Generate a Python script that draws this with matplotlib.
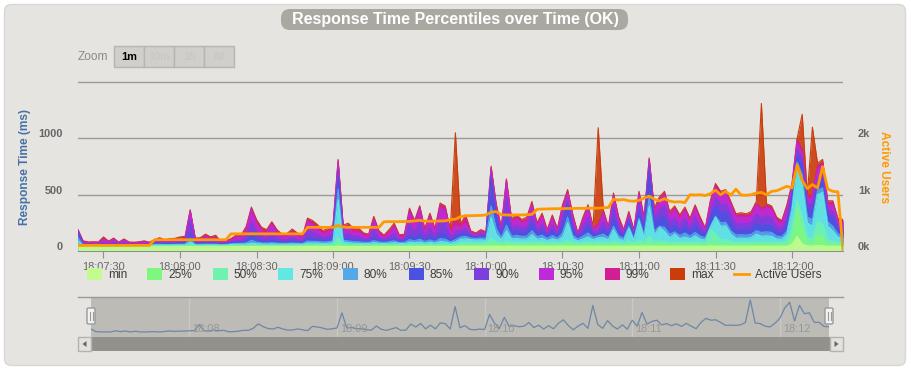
import numpy as np
import pandas as pd
import matplotlib
matplotlib.use('Agg')
import matplotlib.pyplot as plt
import matplotlib.dates as mdates
from matplotlib.patches import FancyBboxPatch, Rectangle, Polygon
from matplotlib.transforms import ScaledTranslation

plt.rcParams['font.family'] = ['Liberation Sans', 'DejaVu Sans']

# one sample every 2 s, starting 18:07:20
start = '2023-01-01 18:07:20'

max_ms = [190, 90, 80, 82, 80, 125, 88, 115, 78, 107,
          80, 78, 82, 90, 78, 100, 118, 100, 110, 112,
          125, 130, 366, 115, 118, 150, 125, 140, 85, 90,
          110, 140, 143, 220, 390, 280, 210, 190, 260, 190,
          150, 155, 195, 160, 128, 292, 270, 232, 180, 200,
          230, 813, 230, 247, 200, 205, 160, 150, 307, 180,
          140, 190, 247, 143, 150, 380, 270, 402, 200, 336,
          200, 426, 400, 190, 1050, 240, 320, 180, 160, 190,
          170, 753, 420, 210, 640, 290, 322, 280, 300, 440,
          250, 336, 190, 320, 200, 410, 545, 330, 160, 300,
          411, 217, 1095, 366, 217, 515, 307, 190, 351, 188,
          530, 300, 827, 380, 480, 530, 350, 400, 320, 390,
          290, 410, 300, 205, 450, 600, 530, 545, 440, 330,
          340, 330, 350, 440, 1310, 420, 400, 300, 270, 410,
          600, 1000, 1214, 500, 1100, 780, 813, 446, 446, 290,
          280]
p99 = [185, 85, 76, 78, 76, 115, 82, 110, 74, 102,
       76, 74, 78, 85, 74, 95, 110, 95, 104, 106,
       115, 120, 360, 108, 110, 140, 118, 130, 80, 85,
       104, 130, 133, 205, 380, 265, 195, 175, 250, 175,
       140, 145, 180, 150, 120, 280, 255, 215, 168, 185,
       215, 800, 215, 230, 185, 190, 150, 140, 295, 168,
       132, 175, 230, 135, 140, 365, 255, 390, 185, 320,
       185, 410, 385, 175, 300, 225, 300, 170, 152, 180,
       162, 740, 400, 200, 630, 275, 305, 265, 285, 425,
       237, 320, 180, 305, 190, 395, 530, 315, 152, 285,
       395, 205, 240, 350, 205, 500, 292, 180, 335, 178,
       515, 285, 815, 360, 465, 515, 335, 385, 305, 375,
       275, 395, 285, 195, 435, 585, 515, 530, 425, 315,
       325, 315, 335, 425, 380, 405, 385, 285, 258, 395,
       585, 990, 900, 480, 500, 760, 790, 430, 430, 278,
       268]
p95 = [180, 75, 70, 72, 70, 100, 74, 100, 68, 95,
       70, 68, 72, 78, 68, 88, 100, 88, 96, 98,
       105, 108, 350, 100, 102, 125, 108, 115, 75, 80,
       96, 118, 120, 185, 365, 245, 175, 155, 235, 155,
       125, 130, 160, 135, 110, 260, 235, 195, 150, 165,
       195, 780, 195, 210, 165, 170, 135, 128, 275, 150,
       122, 158, 210, 124, 128, 345, 235, 370, 165, 300,
       165, 385, 360, 158, 230, 205, 250, 160, 145, 170,
       155, 720, 380, 188, 615, 260, 285, 248, 265, 405,
       222, 300, 170, 285, 178, 375, 510, 295, 145, 265,
       375, 192, 220, 330, 192, 480, 272, 170, 318, 168,
       495, 265, 800, 340, 445, 495, 315, 365, 285, 355,
       258, 375, 265, 182, 415, 565, 495, 510, 405, 295,
       305, 295, 315, 405, 360, 385, 365, 265, 242, 375,
       565, 960, 870, 460, 470, 730, 760, 410, 410, 262,
       252]
p90 = [172, 62, 60, 61, 60, 75, 62, 78, 60, 75,
       60, 59, 61, 64, 59, 74, 80, 74, 78, 78,
       82, 84, 280, 80, 80, 90, 84, 86, 68, 70,
       82, 95, 96, 130, 260, 170, 125, 115, 150, 115,
       100, 102, 118, 105, 92, 180, 165, 145, 120, 128,
       150, 720, 150, 155, 128, 130, 110, 106, 190, 118,
       102, 122, 155, 104, 106, 240, 170, 260, 128, 210,
       128, 270, 250, 122, 170, 180, 200, 145, 135, 150,
       140, 680, 340, 165, 480, 210, 230, 205, 215, 330,
       188, 240, 150, 230, 155, 300, 450, 240, 135, 215,
       300, 168, 180, 260, 168, 400, 220, 150, 290, 148,
       420, 220, 760, 290, 370, 400, 260, 290, 230, 285,
       210, 300, 215, 160, 340, 480, 410, 420, 330, 240,
       245, 240, 255, 330, 290, 310, 295, 215, 200, 300,
       520, 900, 820, 420, 420, 650, 680, 360, 350, 225,
       218]
p85 = [160, 56, 55, 55, 55, 62, 56, 62, 55, 60,
       55, 54, 55, 56, 54, 64, 66, 64, 65, 66,
       68, 68, 160, 66, 66, 70, 68, 69, 62, 63,
       72, 78, 78, 90, 140, 110, 90, 86, 95, 86,
       80, 80, 88, 82, 76, 115, 110, 105, 96, 100,
       115, 663, 115, 112, 100, 100, 90, 88, 120, 95,
       88, 98, 112, 88, 90, 140, 115, 150, 100, 130,
       100, 160, 150, 98, 125, 150, 160, 130, 122, 132,
       125, 634, 300, 145, 320, 170, 180, 165, 172, 250,
       158, 185, 132, 180, 135, 230, 426, 185, 122, 172,
       230, 145, 155, 200, 145, 300, 175, 132, 270, 130,
       360, 180, 700, 240, 300, 300, 200, 230, 180, 220,
       170, 230, 172, 140, 300, 400, 330, 340, 250, 185,
       190, 185, 195, 250, 220, 235, 225, 172, 162, 240,
       480, 850, 760, 380, 360, 600, 620, 320, 300, 190,
       185]
p80 = [120, 51, 50, 50, 50, 55, 51, 54, 50, 53,
       50, 50, 50, 51, 50, 58, 59, 58, 58, 59,
       60, 60, 110, 59, 59, 61, 60, 60, 57, 58,
       64, 67, 67, 72, 95, 80, 72, 70, 74, 70,
       68, 68, 71, 69, 66, 88, 86, 84, 80, 82,
       90, 550, 95, 90, 82, 82, 78, 76, 92, 80,
       76, 82, 90, 76, 77, 100, 90, 105, 84, 98,
       84, 110, 105, 82, 100, 125, 130, 115, 110, 116,
       110, 400, 200, 120, 230, 132, 138, 130, 132, 180,
       128, 140, 112, 138, 114, 160, 300, 140, 106, 132,
       160, 120, 135, 150, 120, 220, 135, 112, 220, 110,
       290, 142, 480, 175, 220, 210, 150, 170, 138, 160,
       132, 165, 132, 118, 220, 310, 250, 255, 180, 142,
       145, 142, 148, 180, 165, 170, 165, 132, 128, 175,
       400, 790, 680, 300, 280, 540, 560, 260, 220, 150,
       148]
p75 = [90, 48, 47, 47, 47, 50, 48, 49, 47, 49,
       47, 47, 47, 48, 47, 53, 54, 53, 53, 54,
       55, 55, 80, 54, 54, 55, 55, 55, 52, 53,
       58, 60, 60, 62, 70, 65, 62, 61, 63, 61,
       60, 60, 62, 61, 59, 72, 71, 70, 68, 69,
       75, 455, 80, 74, 69, 69, 66, 65, 75, 68,
       66, 69, 74, 66, 66, 78, 74, 80, 70, 78,
       70, 84, 80, 69, 82, 105, 108, 100, 96, 100,
       92, 300, 150, 100, 180, 108, 110, 105, 106, 145,
       105, 112, 92, 110, 95, 125, 250, 112, 90, 106,
       125, 100, 118, 118, 100, 190, 108, 92, 200, 92,
       270, 112, 400, 140, 210, 175, 118, 150, 110, 125,
       108, 135, 106, 96, 210, 300, 220, 225, 150, 112,
       115, 112, 118, 150, 130, 135, 130, 106, 104, 150,
       360, 753, 580, 250, 220, 500, 520, 220, 180, 122,
       118]
p50 = [60, 45, 44, 44, 44, 45, 45, 45, 44, 45,
       44, 44, 44, 45, 44, 47, 47, 47, 47, 47,
       48, 48, 55, 47, 47, 48, 48, 48, 47, 47,
       50, 50, 50, 51, 53, 52, 51, 50, 51, 50,
       50, 50, 51, 50, 50, 56, 56, 55, 55, 55,
       56, 120, 57, 56, 55, 55, 54, 54, 57, 55,
       54, 55, 56, 54, 54, 57, 56, 58, 55, 57,
       55, 58, 58, 55, 57, 72, 72, 70, 70, 70,
       70, 110, 85, 72, 90, 75, 75, 74, 74, 82,
       74, 76, 70, 75, 71, 80, 95, 76, 70, 74,
       80, 72, 78, 78, 72, 88, 75, 70, 90, 70,
       100, 76, 130, 82, 90, 86, 78, 80, 75, 80,
       75, 80, 74, 72, 190, 150, 100, 100, 85, 76,
       76, 76, 77, 82, 80, 80, 80, 74, 74, 85,
       200, 450, 300, 120, 110, 262, 240, 100, 90, 78,
       76]
p25 = [45, 42, 41, 41, 41, 42, 42, 42, 41, 42,
       41, 41, 41, 42, 41, 43, 43, 43, 43, 43,
       43, 43, 45, 43, 43, 43, 43, 43, 43, 43,
       45, 45, 45, 45, 46, 45, 45, 45, 45, 45,
       45, 45, 45, 45, 45, 47, 47, 47, 47, 47,
       47, 60, 47, 47, 47, 47, 47, 47, 47, 47,
       47, 47, 47, 47, 47, 48, 47, 48, 47, 48,
       47, 48, 48, 47, 48, 55, 55, 55, 55, 55,
       55, 65, 58, 55, 58, 56, 56, 56, 56, 57,
       56, 56, 55, 56, 55, 57, 60, 56, 55, 56,
       57, 55, 56, 56, 55, 58, 56, 55, 58, 55,
       60, 56, 66, 57, 58, 58, 56, 57, 56, 57,
       56, 57, 56, 55, 70, 65, 60, 60, 58, 56,
       56, 56, 56, 57, 57, 57, 57, 56, 56, 58,
       120, 370, 200, 70, 65, 150, 120, 60, 58, 56,
       56]
min_ms = [38, 38, 38, 38, 38, 38, 38, 38, 38, 38,
          38, 38, 38, 38, 38, 38, 38, 38, 38, 38,
          38, 38, 39, 38, 38, 38, 38, 38, 38, 38,
          39, 39, 39, 39, 39, 39, 39, 39, 39, 39,
          39, 39, 39, 39, 39, 40, 40, 40, 40, 40,
          40, 42, 40, 40, 40, 40, 40, 40, 40, 40,
          40, 40, 40, 40, 40, 40, 40, 40, 40, 40,
          40, 40, 40, 40, 40, 42, 42, 42, 42, 42,
          42, 43, 42, 42, 42, 42, 42, 42, 42, 42,
          42, 42, 42, 42, 42, 42, 43, 42, 42, 42,
          42, 42, 42, 42, 42, 42, 42, 42, 42, 42,
          43, 42, 44, 42, 42, 42, 42, 42, 42, 42,
          42, 42, 42, 42, 44, 43, 43, 43, 42, 42,
          42, 42, 42, 42, 42, 42, 42, 42, 42, 42,
          60, 128, 60, 45, 44, 48, 46, 43, 42, 42,
          42]
users = [100, 100, 100, 100, 100, 100, 100, 100, 100, 100,
         100, 100, 100, 100, 100, 200, 200, 200, 200, 200,
         200, 200, 200, 200, 200, 200, 200, 200, 200, 200,
         305, 305, 305, 305, 305, 305, 305, 305, 305, 305,
         305, 305, 305, 305, 305, 420, 420, 422, 420, 420,
         422, 455, 425, 420, 422, 420, 421, 420, 420, 420,
         520, 522, 520, 521, 523, 525, 535, 545, 530, 528,
         530, 532, 535, 560, 565, 610, 625, 628, 630, 632,
         640, 690, 700, 645, 640, 638, 642, 640, 645, 650,
         740, 745, 748, 750, 752, 752, 755, 755, 758, 757,
         760, 760, 762, 768, 772, 920, 905, 915, 890, 885,
         900, 940, 975, 920, 890, 930, 885, 870, 875, 860,
         1000, 995, 1000, 985, 1020, 1080, 1000, 1060, 990, 1100,
         995, 990, 1000, 1030, 1040, 1000, 1060, 1070, 1110, 1150,
         1120, 1530, 1250, 1110, 1180, 1120, 1500, 1100, 1060, 1050,
         30]

series_names = ['max', '99%', '95%', '90%', '85%', '80%', '75%', '50%', '25%', 'min']
series_colors = ['#ca3c0a', '#d21d95', '#bd2bd8', '#7b3fde', '#4953e0',
                 '#55a7e6', '#62e8e3', '#6ff2b0', '#7ff77f', '#c4fb91']
users_color = '#ff9900'
zoom_buttons = ['1m', '10m', '1h', 'All']

times = pd.date_range(start, periods=len(max_ms), freq='2s')
series = [max_ms, p99, p95, p90, p85, p80, p75, p50, p25, min_ms]

W, H = 911, 370
fig = plt.figure(figsize=(W / 100, H / 100), dpi=100)
fig.patch.set_facecolor('white')


def rect(x0, y0, x1, y1):
    return [x0 / W, 1 - y1 / H, (x1 - x0) / W, (y1 - y0) / H]


def lift(labels, px):
    for lab in labels:
        lab.set_transform(lab.get_transform() + ScaledTranslation(0, px / 100, fig.dpi_scale_trans))


bg = fig.add_axes([0, 0, 1, 1], zorder=0)
bg.set_xlim(0, W)
bg.set_ylim(H, 0)
bg.axis('off')
bg.add_patch(FancyBboxPatch((4.5, 4.5), 901, 361, boxstyle='round,pad=0,rounding_size=7',
                            fc='#e5e4e0', ec='#d8d7d3', lw=1))

# title
bg.add_patch(FancyBboxPatch((281, 9), 347, 21, boxstyle='round,pad=0,rounding_size=9',
                            fc='#a9a8a1', ec='none'))
bg.text(455, 19.5, 'Response Time Percentiles over Time (OK)', ha='center', va='center',
        color='white', fontsize=11.5, fontweight='bold')

# range selector
bg.text(78, 57, 'Zoom', ha='left', va='center', color='#8a8a8a', fontsize=8.6)
for i, lab in enumerate(zoom_buttons):
    x0 = 114 + 30 * i
    bg.add_patch(Rectangle((x0, 46), 30, 21, fc='#d0cfcb', ec='#b6b5b1', lw=1))
    if i == 0:
        bg.text(x0 + 15, 56.5, lab, ha='center', va='center', color='black',
                fontsize=7.9, fontweight='bold')
    else:
        bg.text(x0 + 15, 56.5, lab, ha='center', va='center', color='#c6c6c6', fontsize=7.9)

# main chart
ax = fig.add_axes(rect(78, 81, 843, 251), zorder=2)
ax.patch.set_visible(False)
for vals, col in zip(series, series_colors):
    ax.fill_between(times, 0, vals, color=col, alpha=0.9, lw=0)
    ax.plot(times, vals, color=col, lw=0.8)
ax.set_xlim(times[0], times[-1])
ax.set_ylim(0, 1510)
ax.set_yticks([0, 500, 1000, 1500])
ax.set_yticklabels(['0', '500', '1000', ''])
ax.grid(axis='y', color='#9a9a9a', lw=1)
ax.set_axisbelow(True)
for s in ['left', 'right', 'top']:
    ax.spines[s].set_visible(False)
ax.spines['bottom'].set_color('#8f8f8f')
ax.xaxis.set_major_locator(mdates.SecondLocator(bysecond=[0, 30]))
ax.xaxis.set_major_formatter(mdates.DateFormatter('%H:%M:%S'))
ax.tick_params(axis='x', length=5, color='#8f8f8f', labelsize=7.9, labelcolor='#666666', pad=3)
ax.tick_params(axis='y', length=0, pad=10.8, labelsize=7.9, labelcolor='#666666')
for lab in ax.get_yticklabels():
    lab.set_fontweight('bold')
lift(ax.get_yticklabels(), 5)

ax2 = ax.twinx()
ax2.plot(times, users, color=users_color, lw=2)
ax2.set_ylim(0, 3020)
ax2.set_yticks([0, 1000, 2000])
ax2.set_yticklabels(['0k', '1k', '2k'])
for s in ax2.spines.values():
    s.set_visible(False)
ax2.tick_params(axis='y', length=0, pad=10.8, labelsize=7.9, labelcolor='#666666')
for lab in ax2.get_yticklabels():
    lab.set_fontweight('bold')
lift(ax2.get_yticklabels(), 5)

bg.text(25, 167, 'Response Time (ms)', rotation=90, ha='center', va='center',
        color='#4572a7', fontsize=8.6, fontweight='bold')
bg.text(884, 167, 'Active Users', rotation=270, ha='center', va='center',
        color=users_color, fontsize=8.6, fontweight='bold')

# navigator
nav = fig.add_axes(rect(91, 297, 829, 337), zorder=2)
nav.set_facecolor('#bcbbb6')
nav.plot(times, max_ms, color='#6d87a6', lw=0.9)
nav.set_xlim(times[0], times[-1])
nav.set_ylim(-115, 1420)
nav.xaxis.set_major_locator(mdates.MinuteLocator())
nav.grid(axis='x', color='#cac9c4', lw=1)
nav.set_axisbelow(True)
nav.tick_params(length=0, labelbottom=False, labelleft=False)
for s in nav.spines.values():
    s.set_visible(False)
for tk in nav.get_xticks():
    nav.text(tk, 0.2, mdates.num2date(tk).strftime('%H:%M'), transform=nav.get_xaxis_transform(),
             ha='left', va='center', color='#979797', fontsize=7.9)
for tx in nav.texts:
    tx.set_transform(tx.get_transform() + ScaledTranslation(3 / 100, 0, fig.dpi_scale_trans))

top = fig.add_axes([0, 0, 1, 1], zorder=5)
top.set_xlim(0, W)
top.set_ylim(H, 0)
top.axis('off')
top.plot([78, 843], [297, 297], color='#9a9995', lw=1)
top.add_patch(Rectangle((78, 337), 765, 14, fc='#92918c', ec='none'))
for bx, pts in [(78, [(82.5, 344), (86.5, 341), (86.5, 347)]),
                (830, [(838.5, 344), (834.5, 341), (834.5, 347)])]:
    top.add_patch(Rectangle((bx, 337), 13, 14, fc='#e3e2dd', ec='#b3b2ae', lw=1))
    top.add_patch(Polygon(pts, closed=True, fc='#666666', ec='none'))
for hx in (91, 829):
    top.add_patch(FancyBboxPatch((hx - 4, 308), 8, 16, boxstyle='round,pad=0,rounding_size=1.5',
                                 fc='#f2f2f2', ec='#999999', lw=1))
    top.plot([hx - 1.5, hx - 1.5], [312, 320], color='#999999', lw=0.8)
    top.plot([hx + 1.5, hx + 1.5], [312, 320], color='#999999', lw=0.8)

# legend
legend_x = [87, 147, 213, 278, 343, 409, 474, 539, 605, 670]
for lx, name, col in zip(legend_x, series_names[::-1], series_colors[::-1]):
    top.add_patch(Rectangle((lx, 268), 15, 12, fc=col, ec='none'))
    top.text(lx + 21, 274.5, name, ha='left', va='center', color='#3d3d3d', fontsize=8.6)
top.plot([734, 749], [274, 274], color=users_color, lw=2)
top.text(755, 274.5, 'Active Users', ha='left', va='center', color='#3d3d3d', fontsize=8.6)

fig.savefig('out.png', dpi=100, facecolor='white')
